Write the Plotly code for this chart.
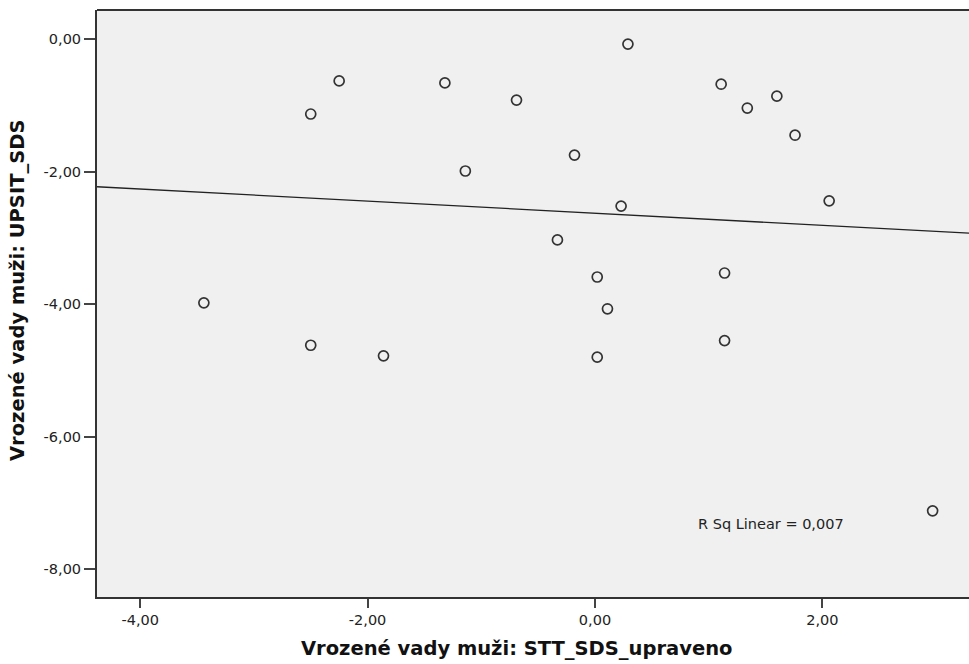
import numpy as np
import plotly.graph_objects as go

stt_sds = [0.29, -2.25, -1.32, 1.11, 1.60, -0.69, -2.50, 1.34, 1.76, -0.18, -1.14,
           0.23, 2.06, -0.33, 0.02, 1.14, -3.44, 0.11, -2.50, 1.14, -1.86, 0.02, 2.97]
upsit_sds = [-0.075, -0.63, -0.66, -0.68, -0.86, -0.92, -1.13, -1.04, -1.45, -1.75, -1.99,
             -2.52, -2.44, -3.03, -3.59, -3.53, -3.98, -4.07, -4.62, -4.55, -4.78, -4.80, -7.12]

x_tickvals = [-4, -2, 0, 2]
x_ticktext = ["-4,00", "-2,00", "0,00", "2,00"]
y_tickvals = [0, -2, -4, -6, -8]
y_ticktext = ["0,00", "-2,00", "-4,00", "-6,00", "-8,00"]

x_title = "Vrozené vady muži: STT_SDS_upraveno"
y_title = "Vrozené vady muži: UPSIT_SDS"
fit_label = "R Sq Linear = 0,007"

x_range = [-4.38, 3.29]
y_range = [-8.42, 0.44]

slope, intercept = np.polyfit(stt_sds, upsit_sds, 1)
fx = np.array(x_range)
fy = slope * fx + intercept

fig = go.Figure()
fig.add_trace(go.Scatter(x=fx, y=fy, mode="lines",
                         line=dict(color="#222222", width=1.3), hoverinfo="skip"))
fig.add_trace(go.Scatter(x=stt_sds, y=upsit_sds, mode="markers",
                         marker=dict(symbol="circle-open", size=10, color="#333333",
                                     line=dict(width=1.7, color="#333333"))))

tick_font = dict(family="DejaVu Sans, sans-serif", size=14.5, color="#222222")
title_font = dict(family="DejaVu Sans, sans-serif", size=19.5, color="#111111")

W, H = 969, 664
L, R, T, B = 97, 0, 10, 67
PW, PH = W - L - R, H - T - B


def px_x(x):
    return (x - L) / PW


def px_y(y):
    return (H - B - y) / PH


fig.update_layout(
    width=W, height=H,
    margin=dict(l=L, r=R, t=T, b=B),
    paper_bgcolor="white", plot_bgcolor="#f0f0f0",
    showlegend=False,
    xaxis=dict(range=x_range, tickvals=x_tickvals, ticktext=x_ticktext,
               showgrid=False, zeroline=False, showline=True, linecolor="#333333", linewidth=2,
               ticks="outside", ticklen=9, tickwidth=2, tickcolor="#444444",
               tickfont=tick_font),
    yaxis=dict(range=y_range, tickvals=y_tickvals, ticktext=y_ticktext,
               showgrid=False, zeroline=False, showline=True, linecolor="#333333", linewidth=2,
               ticks="outside", ticklen=11, tickwidth=2, tickcolor="#444444",
               tickfont=tick_font),
    shapes=[dict(type="line", xref="paper", yref="paper", x0=0, x1=1, y0=1, y1=1,
                 line=dict(color="#333333", width=2))],
    annotations=[
        dict(x=px_x(846), y=px_y(524), xref="paper", yref="paper",
             xanchor="right", yanchor="middle",
             text=fit_label, showarrow=False, font=tick_font),
        dict(x=px_x(516), y=px_y(648), xref="paper", yref="paper",
             xanchor="center", yanchor="middle",
             text="<b>" + x_title + "</b>", showarrow=False, font=title_font),
        dict(x=px_x(17), y=px_y(291), xref="paper", yref="paper",
             xanchor="center", yanchor="middle", textangle=-90,
             text="<b>" + y_title + "</b>", showarrow=False, font=title_font),
    ],
)

fig.write_html("out.html", config={"displayModeBar": False},
               post_script="document.body.style.margin='0';document.body.style.overflow='hidden';")
